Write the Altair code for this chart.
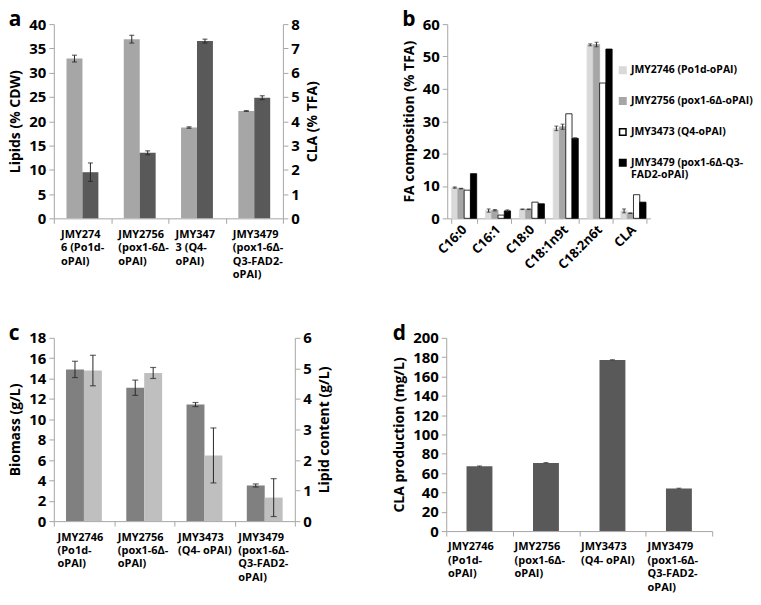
import altair as alt
import pandas as pd

FONT = "Open Sans"
AX = "#A6A6A6"

# ---------------- panel a ----------------
a_cats = ["JMY274|6 (Po1d-|oPAI)", "JMY2756|(pox1-6Δ-|oPAI)",
          "JMY347|3 (Q4-|oPAI)", "JMY3479|(pox1-6Δ-|Q3-FAD2-|oPAI)"]
a_lipids = [32.9, 36.9, 18.7, 22.1]
a_lipids_err = [0.7, 0.8, 0.15, 0.08]
a_cla = [1.9, 2.7, 7.3, 4.97]
a_cla_err = [0.38, 0.08, 0.08, 0.08]

# ---------------- panel b ----------------
b_cats = ["C16:0", "C16:1", "C18:0", "C18:1n9t", "C18:2n6t", "CLA"]
b_series = ["JMY2746 (Po1d-oPAI)", "JMY2756 (pox1-6Δ-oPAI)",
            "JMY3473 (Q4-oPAI)", "JMY3479 (pox1-6Δ-Q3-|FAD2-oPAI)"]
b_s1 = [9.5, 2.4, 2.8, 27.8, 53.6, 2.3]
b_s1_err = [0.2, 0.5, 0.1, 0.7, 0.3, 0.6]
b_s2 = [9.2, 2.5, 2.8, 28.3, 53.7, 1.6]
b_s2_err = [0.1, 0.2, 0.1, 0.8, 0.7, 0.1]
b_s3 = [8.7, 1.0, 5.0, 32.3, 41.8, 7.3]
b_s4 = [13.8, 2.3, 4.5, 24.7, 52.3, 5.0]
b_s4_err = [0.0, 0.3, 0.0, 0.2, 0.0, 0.0]
b_fill = ["#D9D9D9", "#A6A6A6", "#FFFFFF", "#000000"]
b_stroke = ["#D9D9D9", "#A6A6A6", "#000000", "#000000"]

# ---------------- panel c ----------------
cd_cats = ["JMY2746|(Po1d-|oPAI)", "JMY2756|(pox1-6Δ-|oPAI)",
           "JMY3473|(Q4- oPAI)", "JMY3479|(pox1-6Δ-|Q3-FAD2-|oPAI)"]
c_biomass = [14.9, 13.1, 11.45, 3.5]
c_biomass_err = [0.8, 0.75, 0.2, 0.15]
c_lipid = [4.93, 4.85, 2.15, 0.77]
c_lipid_err = [0.5, 0.18, 0.9, 0.62]

# ---------------- panel d ----------------
d_cla = [67, 70.5, 177, 44]
d_cla_err = [0.4, 0.4, 0.4, 0.4]


def xenc(cats, loff):
    return alt.X("cat:N", sort=cats,
                 scale=alt.Scale(paddingInner=0.0, paddingOuter=0.0),
                 axis=alt.Axis(title=None, labelAngle=0,
                               labelExpr="split(datum.label, '|')",
                               labelAlign="left", labelOffset=loff,
                               labelBaseline="top", labelLineHeight=13.5,
                               labelFontSize=11, labelPadding=5,
                               tickBand="extent", labelLimit=200))


def yaxis(title, vals, orient):
    kw = dict(title=title, values=vals, orient=orient, grid=False,
              labelFontSize=15, titleFontSize=14, titlePadding=6,
              labelPadding=3)
    if orient == "right":
        kw["titleAngle"] = 270
        kw["titleBaseline"] = "top"
    return alt.Axis(**kw)


def side(df, s, cats, loff, dom, title, vals, orient, color, bw, off, capw):
    base = alt.Chart(df).transform_filter(alt.datum.s == s).transform_calculate(
        lo="datum.v - datum.e", hi="datum.v + datum.e")
    X = xenc(cats, loff)
    Y = lambda f: alt.Y(f, scale=alt.Scale(domain=dom, nice=False),
                        axis=yaxis(title, vals, orient), stack=None)
    bar = base.mark_bar(color=color, width=bw, xOffset=off).encode(x=X, y=Y("v:Q"))
    err = base.transform_filter(alt.datum.e > 0)
    rule = err.mark_rule(color="#262626", strokeWidth=1, xOffset=off).encode(
        x=X, y=Y("lo:Q"), y2="hi:Q")
    t1 = err.mark_tick(color="#262626", size=capw, thickness=1.2, xOffset=off).encode(
        x=X, y=Y("lo:Q"))
    t2 = err.mark_tick(color="#262626", size=capw, thickness=1.2, xOffset=off).encode(
        x=X, y=Y("hi:Q"))
    return alt.layer(bar, rule, t1, t2)


def ptitle(letter):
    return alt.TitleParams(letter, anchor="start", frame="bounds",
                           fontSize=21, fontWeight="bold", font=FONT,
                           offset=-13)


# ---- a
df_a = pd.DataFrame({"cat": a_cats * 2, "s": ["L"] * 4 + ["R"] * 4,
                     "v": a_lipids + a_cla, "e": a_lipids_err + a_cla_err})
chart_a = alt.layer(
    side(df_a, "L", a_cats, -22, [0, 40], "Lipids (% CDW)",
         list(range(0, 41, 5)), "left", "#A6A6A6", 16, -8, 5),
    side(df_a, "R", a_cats, -22, [0, 8], "CLA (% TFA)",
         list(range(0, 9)), "right", "#595959", 16, 8, 5),
).resolve_scale(y="independent").properties(width=230, height=195,
                                            title=ptitle("a"))

# ---- b
rows = []
b_vals = [b_s1, b_s2, b_s3, b_s4]
b_errs = [b_s1_err, b_s2_err, [0] * 6, b_s4_err]
for si, name in enumerate(b_series):
    for ci, c in enumerate(b_cats):
        rows.append({"cat": c, "series": name, "v": b_vals[si][ci],
                     "e": b_errs[si][ci]})
df_b = pd.DataFrame(rows)
bX = alt.X("cat:N", sort=b_cats,
           scale=alt.Scale(paddingInner=0.26, paddingOuter=0.13),
           axis=alt.Axis(title=None, labelAngle=-45, labelAlign="right",
                         labelBaseline="middle", labelFontSize=13,
                         tickBand="extent", labelPadding=4))
bXo = alt.XOffset("series:N", sort=b_series,
                  scale=alt.Scale(domain=b_series))
bY = lambda f: alt.Y(f, scale=alt.Scale(domain=[0, 60], nice=False), stack=None,
                     axis=yaxis("FA composition (% TFA)", list(range(0, 61, 10)), "left"))
leg = alt.Legend(title=None, orient="none", legendX=566, legendY=41,
                 symbolType="square", symbolSize=42, labelFontSize=10.5,
                 labelFont=FONT, labelFontWeight="bold", labelLimit=300,
                 rowPadding=18, labelExpr="split(datum.label, '|')",
                 labelOffset=3)
base_b = alt.Chart(df_b)
bars_b = base_b.mark_bar(strokeWidth=0.8).encode(
    x=bX, xOffset=bXo, y=bY("v:Q"),
    color=alt.Color("series:N", sort=b_series,
                    scale=alt.Scale(domain=b_series, range=b_fill), legend=leg),
    stroke=alt.Stroke("series:N", sort=b_series,
                      scale=alt.Scale(domain=b_series, range=b_stroke), legend=leg),
)
err_b = base_b.transform_filter(alt.datum.e > 0).transform_calculate(
    lo="datum.v - datum.e", hi="datum.v + datum.e")
rule_b = err_b.mark_rule(color="#262626").encode(x=bX, xOffset=bXo, y=bY("lo:Q"), y2="hi:Q")
tk1_b = err_b.mark_tick(color="#262626", size=4, thickness=1).encode(x=bX, xOffset=bXo, y=bY("lo:Q"))
tk2_b = err_b.mark_tick(color="#262626", size=4, thickness=1).encode(x=bX, xOffset=bXo, y=bY("hi:Q"))
chart_b = alt.layer(bars_b, rule_b, tk1_b, tk2_b).properties(
    width=204, height=195, title=ptitle("b"))

# ---- c
df_c = pd.DataFrame({"cat": cd_cats * 2, "s": ["L"] * 4 + ["R"] * 4,
                     "v": c_biomass + c_lipid, "e": c_biomass_err + c_lipid_err})
chart_c = alt.layer(
    side(df_c, "L", cd_cats, -27, [0, 18], "Biomass (g/L)",
         list(range(0, 19, 2)), "left", "#808080", 18, -9, 6),
    side(df_c, "R", cd_cats, -27, [0, 6], "Lipid content (g/L)",
         list(range(0, 7)), "right", "#BFBFBF", 18, 9, 6),
).resolve_scale(y="independent").properties(width=242, height=184,
                                            title=ptitle("c"))

# ---- d
df_d = pd.DataFrame({"cat": cd_cats, "v": d_cla, "e": d_cla_err})
dX = xenc(cd_cats, -32)
dY = lambda f: alt.Y(f, scale=alt.Scale(domain=[0, 200], nice=False),
                     axis=yaxis("CLA production (mg/L)", list(range(0, 201, 20)), "left"))
base_d = alt.Chart(df_d).transform_calculate(lo="datum.v - datum.e", hi="datum.v + datum.e")
chart_d = alt.layer(
    base_d.mark_bar(color="#595959", width=26).encode(x=dX, y=dY("v:Q")),
    base_d.mark_rule(color="#262626").encode(x=dX, y=dY("lo:Q"), y2="hi:Q"),
    base_d.mark_tick(color="#262626", size=5, thickness=1).encode(x=dX, y=dY("hi:Q")),
).properties(width=267, height=194, title=ptitle("d"))

row1 = alt.hconcat(chart_a, chart_b, spacing=82)
row2 = alt.hconcat(chart_c, chart_d, spacing=61)
chart = alt.vconcat(row1, row2, spacing=43).properties(
    padding={"left": 0, "top": 0, "right": 0, "bottom": 0}
).configure_axis(
    domainColor=AX, tickColor=AX, tickSize=5, labelFont=FONT,
    titleFont=FONT, labelFontWeight="bold", titleFontWeight="bold",
    labelColor="#000000", titleColor="#000000", grid=False
).configure_view(stroke=None).configure_legend(
    labelColor="#000000"
)

chart.save("out.html", embed_options={"renderer": "svg", "actions": False})
